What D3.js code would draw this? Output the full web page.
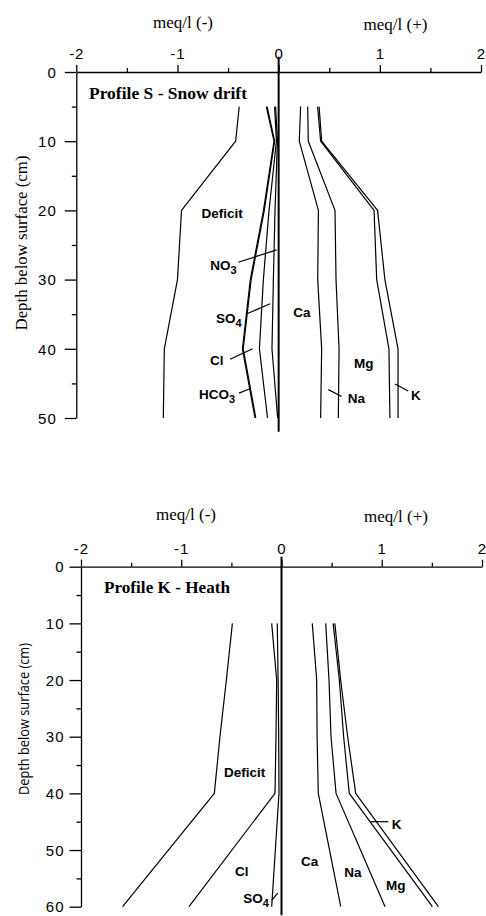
<!DOCTYPE html>
<html>
<head>
<meta charset="utf-8">
<script src="https://cdn.jsdelivr.net/npm/d3@7"></script>
<style>
  html, body { margin: 0; padding: 0; background: #fff; }
  svg { display: block; }
</style>
</head>
<body>
<script>
// ---------------- DATA ----------------
// Profile S - Snow drift (depth in cm, values in meq/l; anion lines are cumulative, plotted negative)
const depthsS   = [5, 10, 20, 30, 40, 50];
const deficitS  = [-0.39, -0.425, -0.96, -1.0, -1.13, -1.14];
const no3S      = [-0.03, -0.012, -0.036, -0.052, -0.066, -0.01];
const so4S      = [-0.04, -0.022, -0.095, -0.151, -0.19, -0.11];
const clS       = [-0.114, -0.04, -0.142, -0.272, -0.35, -0.226];
const hco3S     = [-0.122, -0.046, -0.15, -0.28, -0.358, -0.234];
const caS       = [0.217, 0.204, 0.393, 0.386, 0.425, 0.415];
const naS       = [0.287, 0.293, 0.557, 0.567, 0.597, 0.59];
const mgS       = [0.385, 0.415, 0.943, 0.969, 1.09, 1.10];
const kS        = [0.40, 0.425, 0.978, 1.05, 1.18, 1.18];

// Profile K - Heath
const depthsK   = [10, 20, 30, 40, 60];
const deficitK  = [-0.49, -0.55, -0.614, -0.67, -1.585];
const so4K      = [-0.042, -0.034, -0.028, -0.025, -0.098];
const clK       = [-0.098, -0.048, -0.055, -0.065, -0.923];
const caK       = [0.307, 0.351, 0.355, 0.367, 0.591];
const naK       = [0.441, 0.474, 0.494, 0.544, 1.033];
const mgK       = [0.515, 0.577, 0.62, 0.676, 1.505];
const kK        = [0.532, 0.59, 0.66, 0.74, 1.565];

// axis tick labels
const xTicks      = [-2, -1, 0, 1, 2];
const xMinorTicks = [-1.5, -0.5, 0.5, 1.5];
const yTicksS     = [0, 10, 20, 30, 40, 50];
const yMinorS     = [5, 15, 25, 35, 45];
const yTicksK     = [0, 10, 20, 30, 40, 50, 60];
const yMinorK     = [5, 15, 25, 35, 45, 55];

// ---------------- DRAW ----------------
const W = 486, H = 916;
const svg = d3.select("body").append("svg").attr("width", W).attr("height", H);

const sansBold = "'Liberation Sans', Arial, Helvetica, sans-serif";
const serif = "'Liberation Serif', 'Times New Roman', serif";

function drawPanel(cfg) {
  const g = svg.append("g");
  const x = d3.scaleLinear().domain([-2, 2]).range(cfg.xRange);
  const y = d3.scaleLinear().domain(cfg.yDomain).range(cfg.yRange);

  // X axis (top)
  const xa = g.append("g").attr("transform", `translate(0,${y(0)})`)
    .call(d3.axisTop(x).tickValues(xTicks).tickSize(7).tickSizeOuter(0).tickPadding(6)
      .tickFormat(d => String(d)));
  const xm = g.append("g").attr("transform", `translate(0,${y(0)})`)
    .call(d3.axisTop(x).tickValues(xMinorTicks).tickSize(4).tickSizeOuter(0).tickFormat(""));
  xm.select(".domain").remove();

  // Y axis (left)
  const ya = g.append("g").attr("transform", `translate(${x(-2)},0)`)
    .call(d3.axisLeft(y).tickValues(cfg.yTicks).tickSize(11.5).tickSizeOuter(0).tickPadding(cfg.yPad)
      .tickFormat(d => String(d)));
  const ym = g.append("g").attr("transform", `translate(${x(-2)},0)`)
    .call(d3.axisLeft(y).tickValues(cfg.yMinor).tickSize(4.5).tickSizeOuter(0).tickFormat(""));
  ym.select(".domain").remove();

  [xa, xm, ya, ym].forEach(a => {
    a.selectAll("path, line").attr("stroke", "#000").attr("stroke-width", 1.3);
    a.selectAll("text").attr("fill", "#000").attr("font-family", sansBold)
      .attr("font-size", 15).attr("letter-spacing", 1);
  });
  ya.selectAll("text").attr("dy", "0.35em");

  // axis titles
  g.append("text").attr("x", cfg.negTitle[0]).attr("y", cfg.negTitle[1])
    .attr("text-anchor", "middle").attr("font-family", serif).attr("font-size", 17)
    .text("meq/l (-)");
  g.append("text").attr("x", cfg.posTitle[0]).attr("y", cfg.posTitle[1])
    .attr("text-anchor", "middle").attr("font-family", serif).attr("font-size", 17)
    .text("meq/l (+)");

  // y label
  g.append("text")
    .attr("transform", `translate(${cfg.yLabel[0]},${cfg.yLabel[1]}) rotate(-90)`)
    .attr("text-anchor", "middle")
    .attr("font-family", cfg.yLabelFont).attr("font-size", cfg.yLabelSize)
    .attr("textLength", cfg.yLabelLen).attr("lengthAdjust", "spacingAndGlyphs")
    .text("Depth below surface (cm)");

  // panel title
  g.append("text").attr("x", cfg.title[0]).attr("y", cfg.title[1])
    .attr("font-family", serif).attr("font-weight", "bold").attr("font-size", 16.5)
    .attr("textLength", cfg.title[2]).attr("lengthAdjust", "spacingAndGlyphs")
    .text(cfg.titleText);

  // zero line
  g.append("line").attr("x1", x(0)).attr("x2", x(0))
    .attr("y1", y(cfg.zeroExtent[0])).attr("y2", y(cfg.zeroExtent[1]))
    .attr("stroke", "#000").attr("stroke-width", 2);

  // profile lines
  const line = d3.line().x(d => x(d[1])).y(d => y(d[0]));
  cfg.series.forEach(s => {
    g.append("path")
      .attr("d", line(d3.zip(cfg.depths, s)))
      .attr("fill", "none").attr("stroke", "#000").attr("stroke-width", 1.2)
      .attr("stroke-linejoin", "round");
  });

  // leaders
  cfg.leaders.forEach(l => {
    g.append("line").attr("x1", x(l[0])).attr("y1", y(l[1]))
      .attr("x2", x(l[2])).attr("y2", y(l[3]))
      .attr("stroke", "#000").attr("stroke-width", 1.2);
  });

  // labels: [text, subscript, value, depth, anchor]
  cfg.labels.forEach(l => {
    const t = g.append("text").attr("x", x(l[2])).attr("y", y(l[3]))
      .attr("text-anchor", l[4]).attr("font-family", sansBold)
      .attr("font-weight", "bold").attr("font-size", 13.5);
    t.append("tspan").text(l[0]);
    if (l[1]) t.append("tspan").attr("dy", 4).attr("font-size", 11).text(l[1]);
  });
}

drawPanel({
  xRange: [76.3, 481],
  yDomain: [0, 50], yRange: [72, 418],
  yTicks: yTicksS, yMinor: yMinorS, yPad: 8,
  negTitle: [183, 28], posTitle: [395.5, 30],
  yLabel: [27, 243], yLabelFont: serif, yLabelSize: 16.8, yLabelLen: 175,
  title: [89, 98.5, 158], titleText: "Profile S - Snow drift",
  zeroExtent: [-2.2, 52],
  depths: depthsS,
  series: [deficitS, no3S, so4S, clS, hco3S, caS, naS, mgS, kS],
  leaders: [
    [-0.398, 27.5, -0.02, 25.7],
    [-0.308, 34.9, -0.084, 33.5],
    [-0.480, 41.5, -0.257, 40.0],
    [-0.392, 46.4, -0.290, 45.8],
    [0.491, 45.9, 0.622, 46.9],
    [1.150, 45.1, 1.281, 46.1]
  ],
  labels: [
    ["Deficit", "", -0.558, 21.1, "middle"],
    ["NO", "3", -0.415, 28.6, "end"],
    ["SO", "4", -0.366, 36.3, "end"],
    ["Cl", "", -0.546, 42.3, "end"],
    ["HCO", "3", -0.431, 47.3, "end"],
    ["Ca", "", 0.145, 35.4, "start"],
    ["Mg", "", 0.745, 42.8, "start"],
    ["Na", "", 0.682, 47.9, "start"],
    ["K", "", 1.308, 47.4, "start"]
  ]
});

drawPanel({
  xRange: [81, 482],
  yDomain: [0, 60], yRange: [566.7, 906.7],
  yTicks: yTicksK, yMinor: yMinorK, yPad: 5,
  negTitle: [186, 520], posTitle: [396, 522],
  yLabel: [29, 719], yLabelFont: "'Open Sans', 'Liberation Sans', sans-serif", yLabelSize: 14, yLabelLen: 152,
  title: [104, 593, 126], titleText: "Profile K - Heath",
  zeroExtent: [-1.76, 61.5],
  depths: depthsK,
  series: [deficitK, so4K, clK, caK, naK, mgK, kK],
  leaders: [
    [-0.098, 58.9, -0.038, 57.6],
    [0.89, 45, 1.066, 45]
  ],
  labels: [
    ["Deficit", "", -0.367, 37.06, "middle"],
    ["Cl", "", -0.464, 54.6, "start"],
    ["SO", "4", -0.381, 59.3, "start"],
    ["Ca", "", 0.195, 52.8, "start"],
    ["Na", "", 0.627, 54.8, "start"],
    ["Mg", "", 1.043, 57.05, "start"],
    ["K", "", 1.10, 46.2, "start"]
  ]
});
</script>
</body>
</html>
